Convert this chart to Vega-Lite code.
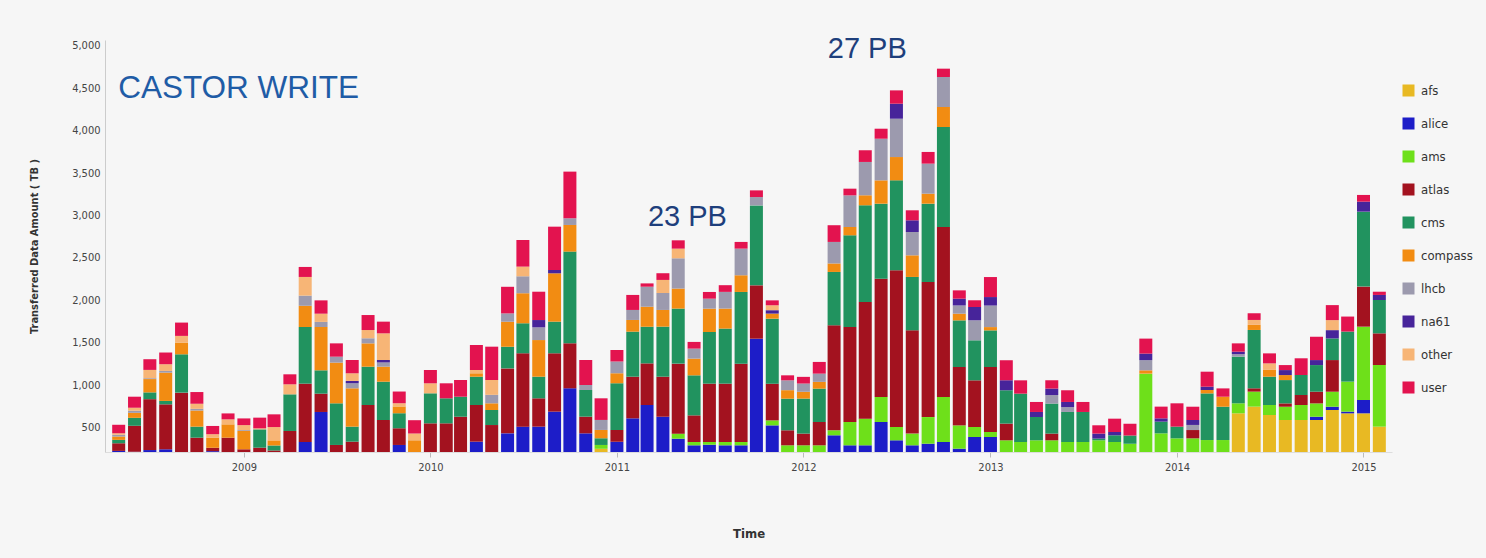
{
"$schema": "https://vega.github.io/schema/vega-lite/v6.json",
"width": 1287, "height": 412,
"autosize": {"type": "none"},
"padding": {"left": 105, "top": 40, "right": 94, "bottom": 106},
"background": "#f6f6f6",
"config": {"view": {"stroke": null}, "axis": {"grid": false}},
"layer": [
{
"data": {"values": [
{"m":"2008-05-01","afs":0,"alice":225,"ams":0,"atlas":90,"cms":40,"compass":40,"lhcb":20,"na61":0,"other":18,"user":100},
{"m":"2008-06-01","afs":0,"alice":215,"ams":0,"atlas":306,"cms":94,"compass":59,"lhcb":25,"na61":0,"other":35,"user":130},
{"m":"2008-07-01","afs":0,"alice":235,"ams":0,"atlas":600,"cms":80,"compass":157,"lhcb":10,"na61":0,"other":98,"user":126},
{"m":"2008-08-01","afs":0,"alice":244,"ams":0,"atlas":530,"cms":40,"compass":334,"lhcb":20,"na61":0,"other":79,"user":138},
{"m":"2008-09-01","afs":0,"alice":0,"ams":0,"atlas":912,"cms":452,"compass":138,"lhcb":0,"na61":0,"other":79,"user":157},
{"m":"2008-10-01","afs":0,"alice":0,"ams":0,"atlas":381,"cms":130,"compass":190,"lhcb":20,"na61":0,"other":60,"user":138},
{"m":"2008-11-01","afs":0,"alice":222,"ams":0,"atlas":40,"cms":0,"compass":120,"lhcb":0,"na61":0,"other":40,"user":97},
{"m":"2008-12-01","afs":0,"alice":0,"ams":0,"atlas":381,"cms":0,"compass":157,"lhcb":0,"na61":0,"other":59,"user":70},
{"m":"2009-01-01","afs":0,"alice":0,"ams":0,"atlas":244,"cms":0,"compass":216,"lhcb":10,"na61":0,"other":59,"user":79},
{"m":"2009-02-01","afs":0,"alice":0,"ams":0,"atlas":263,"cms":216,"compass":0,"lhcb":0,"na61":0,"other":12,"user":126},
{"m":"2009-03-01","afs":0,"alice":0,"ams":0,"atlas":230,"cms":59,"compass":60,"lhcb":0,"na61":0,"other":157,"user":150},
{"m":"2009-04-01","afs":0,"alice":0,"ams":0,"atlas":460,"cms":432,"compass":0,"lhcb":0,"na61":0,"other":118,"user":118},
{"m":"2009-05-01","afs":0,"alice":330,"ams":0,"atlas":688,"cms":668,"compass":250,"lhcb":120,"na61":0,"other":220,"user":118},
{"m":"2009-06-01","afs":0,"alice":684,"ams":0,"atlas":216,"cms":275,"compass":511,"lhcb":60,"na61":0,"other":97,"user":157},
{"m":"2009-07-01","afs":0,"alice":0,"ams":0,"atlas":295,"cms":491,"compass":480,"lhcb":70,"na61":0,"other":0,"user":157},
{"m":"2009-08-01","afs":0,"alice":0,"ams":0,"atlas":334,"cms":177,"compass":452,"lhcb":60,"na61":27,"other":90,"user":157},
{"m":"2009-09-01","afs":0,"alice":0,"ams":0,"atlas":766,"cms":452,"compass":275,"lhcb":60,"na61":0,"other":97,"user":177},
{"m":"2009-10-01","afs":0,"alice":0,"ams":0,"atlas":589,"cms":452,"compass":177,"lhcb":50,"na61":29,"other":314,"user":138},
{"m":"2009-11-01","afs":0,"alice":295,"ams":0,"atlas":197,"cms":177,"compass":80,"lhcb":0,"na61":0,"other":38,"user":138},
{"m":"2009-12-01","afs":0,"alice":0,"ams":0,"atlas":0,"cms":0,"compass":350,"lhcb":0,"na61":0,"other":80,"user":157},
{"m":"2010-01-01","afs":0,"alice":0,"ams":0,"atlas":550,"cms":354,"compass":0,"lhcb":0,"na61":0,"other":118,"user":157},
{"m":"2010-02-01","afs":0,"alice":0,"ams":0,"atlas":550,"cms":295,"compass":0,"lhcb":0,"na61":0,"other":0,"user":177},
{"m":"2010-03-01","afs":0,"alice":0,"ams":0,"atlas":628,"cms":236,"compass":0,"lhcb":0,"na61":0,"other":0,"user":197},
{"m":"2010-04-01","afs":0,"alice":334,"ams":0,"atlas":432,"cms":334,"compass":40,"lhcb":0,"na61":0,"other":39,"user":295},
{"m":"2010-05-01","afs":0,"alice":0,"ams":0,"atlas":530,"cms":177,"compass":79,"lhcb":100,"na61":0,"other":175,"user":393},
{"m":"2010-06-01","afs":0,"alice":432,"ams":0,"atlas":766,"cms":255,"compass":295,"lhcb":98,"na61":0,"other":0,"user":314},
{"m":"2010-07-01","afs":0,"alice":511,"ams":0,"atlas":865,"cms":354,"compass":354,"lhcb":200,"na61":0,"other":114,"user":314},
{"m":"2010-08-01","afs":0,"alice":511,"ams":0,"atlas":334,"cms":255,"compass":432,"lhcb":150,"na61":86,"other":0,"user":334},
{"m":"2010-09-01","afs":0,"alice":688,"ams":0,"atlas":688,"cms":373,"compass":570,"lhcb":0,"na61":39,"other":0,"user":511},
{"m":"2010-10-01","afs":0,"alice":963,"ams":0,"atlas":531,"cms":1081,"compass":314,"lhcb":79,"na61":0,"other":0,"user":550},
{"m":"2010-11-01","afs":0,"alice":432,"ams":0,"atlas":197,"cms":314,"compass":0,"lhcb":59,"na61":0,"other":0,"user":295},
{"m":"2010-12-01","afs":250,"alice":0,"ams":45,"atlas":0,"cms":79,"compass":98,"lhcb":118,"na61":0,"other":0,"user":255},
{"m":"2011-01-01","afs":0,"alice":334,"ams":0,"atlas":138,"cms":550,"compass":118,"lhcb":138,"na61":0,"other":0,"user":138},
{"m":"2011-02-01","afs":0,"alice":609,"ams":0,"atlas":491,"cms":531,"compass":138,"lhcb":118,"na61":0,"other":0,"user":177},
{"m":"2011-03-01","afs":0,"alice":766,"ams":0,"atlas":491,"cms":432,"compass":236,"lhcb":236,"na61":0,"other":0,"user":39},
{"m":"2011-04-01","afs":0,"alice":628,"ams":0,"atlas":472,"cms":590,"compass":197,"lhcb":200,"na61":0,"other":154,"user":79},
{"m":"2011-05-01","afs":0,"alice":369,"ams":59,"atlas":826,"cms":649,"compass":236,"lhcb":357,"na61":0,"other":114,"user":98},
{"m":"2011-06-01","afs":0,"alice":291,"ams":39,"atlas":314,"cms":472,"compass":197,"lhcb":118,"na61":0,"other":0,"user":79},
{"m":"2011-07-01","afs":0,"alice":298,"ams":32,"atlas":688,"cms":609,"compass":275,"lhcb":118,"na61":0,"other":0,"user":79},
{"m":"2011-08-01","afs":0,"alice":291,"ams":39,"atlas":688,"cms":649,"compass":236,"lhcb":197,"na61":0,"other":0,"user":79},
{"m":"2011-09-01","afs":0,"alice":291,"ams":39,"atlas":924,"cms":845,"compass":197,"lhcb":314,"na61":0,"other":0,"user":79},
{"m":"2011-10-01","afs":0,"alice":1548,"ams":0,"atlas":629,"cms":943,"compass":0,"lhcb":98,"na61":0,"other":0,"user":79},
{"m":"2011-11-01","afs":0,"alice":526,"ams":59,"atlas":432,"cms":767,"compass":60,"lhcb":0,"na61":40,"other":58,"user":58},
{"m":"2011-12-01","afs":0,"alice":0,"ams":291,"atlas":177,"cms":373,"compass":100,"lhcb":116,"na61":0,"other":0,"user":59},
{"m":"2012-01-01","afs":0,"alice":0,"ams":291,"atlas":138,"cms":413,"compass":80,"lhcb":97,"na61":0,"other":0,"user":79},
{"m":"2012-02-01","afs":0,"alice":0,"ams":291,"atlas":275,"cms":393,"compass":80,"lhcb":97,"na61":0,"other":0,"user":138},
{"m":"2012-03-01","afs":0,"alice":409,"ams":59,"atlas":1238,"cms":629,"compass":100,"lhcb":254,"na61":0,"other":0,"user":197},
{"m":"2012-04-01","afs":0,"alice":291,"ams":275,"atlas":1120,"cms":1081,"compass":98,"lhcb":373,"na61":0,"other":0,"user":79},
{"m":"2012-05-01","afs":0,"alice":291,"ams":314,"atlas":1376,"cms":1140,"compass":118,"lhcb":393,"na61":0,"other":0,"user":138},
{"m":"2012-06-01","afs":0,"alice":566,"ams":295,"atlas":1395,"cms":884,"compass":275,"lhcb":491,"na61":0,"other":0,"user":118},
{"m":"2012-07-01","afs":0,"alice":350,"ams":157,"atlas":1847,"cms":1061,"compass":275,"lhcb":452,"na61":177,"other":0,"user":157},
{"m":"2012-08-01","afs":0,"alice":291,"ams":138,"atlas":1218,"cms":629,"compass":255,"lhcb":275,"na61":138,"other":0,"user":118},
{"m":"2012-09-01","afs":0,"alice":310,"ams":314,"atlas":1592,"cms":924,"compass":118,"lhcb":354,"na61":0,"other":0,"user":138},
{"m":"2012-10-01","afs":0,"alice":330,"ams":531,"atlas":2004,"cms":1179,"compass":236,"lhcb":354,"na61":0,"other":0,"user":98},
{"m":"2012-11-01","afs":0,"alice":251,"ams":275,"atlas":688,"cms":550,"compass":79,"lhcb":97,"na61":80,"other":0,"user":98},
{"m":"2012-12-01","afs":0,"alice":389,"ams":118,"atlas":550,"cms":472,"compass":0,"lhcb":236,"na61":157,"other":0,"user":79},
{"m":"2013-01-01","afs":0,"alice":389,"ams":59,"atlas":766,"cms":432,"compass":39,"lhcb":254,"na61":100,"other":0,"user":236},
{"m":"2013-02-01","afs":0,"alice":0,"ams":350,"atlas":197,"cms":393,"compass":0,"lhcb":0,"na61":118,"other":0,"user":236},
{"m":"2013-03-01","afs":0,"alice":0,"ams":330,"atlas":0,"cms":570,"compass":0,"lhcb":0,"na61":0,"other":0,"user":157},
{"m":"2013-04-01","afs":0,"alice":0,"ams":350,"atlas":0,"cms":275,"compass":0,"lhcb":0,"na61":59,"other":0,"user":118},
{"m":"2013-05-01","afs":0,"alice":0,"ams":350,"atlas":79,"cms":354,"compass":0,"lhcb":100,"na61":77,"other":0,"user":98},
{"m":"2013-06-01","afs":0,"alice":0,"ams":330,"atlas":0,"cms":354,"compass":0,"lhcb":58,"na61":60,"other":0,"user":138},
{"m":"2013-07-01","afs":0,"alice":0,"ams":330,"atlas":0,"cms":354,"compass":0,"lhcb":0,"na61":0,"other":0,"user":118},
{"m":"2013-08-01","afs":0,"alice":0,"ams":350,"atlas":0,"cms":20,"compass":0,"lhcb":0,"na61":59,"other":0,"user":98},
{"m":"2013-09-01","afs":0,"alice":0,"ams":330,"atlas":0,"cms":79,"compass":0,"lhcb":0,"na61":39,"other":0,"user":157},
{"m":"2013-10-01","afs":0,"alice":0,"ams":310,"atlas":0,"cms":98,"compass":0,"lhcb":0,"na61":0,"other":0,"user":138},
{"m":"2013-11-01","afs":0,"alice":0,"ams":1136,"atlas":0,"cms":0,"compass":39,"lhcb":120,"na61":77,"other":0,"user":177},
{"m":"2013-12-01","afs":0,"alice":0,"ams":432,"atlas":0,"cms":138,"compass":0,"lhcb":0,"na61":39,"other":0,"user":138},
{"m":"2014-01-01","afs":0,"alice":0,"ams":373,"atlas":0,"cms":138,"compass":0,"lhcb":0,"na61":0,"other":0,"user":275},
{"m":"2014-02-01","afs":0,"alice":0,"ams":373,"atlas":98,"cms":0,"compass":0,"lhcb":60,"na61":58,"other":0,"user":157},
{"m":"2014-03-01","afs":0,"alice":0,"ams":353,"atlas":0,"cms":550,"compass":40,"lhcb":0,"na61":39,"other":0,"user":177},
{"m":"2014-04-01","afs":0,"alice":0,"ams":353,"atlas":0,"cms":393,"compass":118,"lhcb":0,"na61":0,"other":0,"user":98},
{"m":"2014-05-01","afs":668,"alice":0,"ams":118,"atlas":0,"cms":550,"compass":0,"lhcb":30,"na61":29,"other":0,"user":98},
{"m":"2014-06-01","afs":747,"alice":0,"ams":177,"atlas":39,"cms":688,"compass":60,"lhcb":0,"na61":0,"other":58,"user":79},
{"m":"2014-07-01","afs":648,"alice":0,"ams":118,"atlas":0,"cms":334,"compass":80,"lhcb":0,"na61":0,"other":77,"user":118},
{"m":"2014-08-01","afs":589,"alice":0,"ams":157,"atlas":39,"cms":275,"compass":59,"lhcb":0,"na61":59,"other":0,"user":59},
{"m":"2014-09-01","afs":589,"alice":0,"ams":177,"atlas":118,"cms":236,"compass":0,"lhcb":0,"na61":0,"other":0,"user":197},
{"m":"2014-10-01","afs":589,"alice":39,"ams":157,"atlas":138,"cms":314,"compass":0,"lhcb":0,"na61":59,"other":0,"user":275},
{"m":"2014-11-01","afs":707,"alice":39,"ams":177,"atlas":373,"cms":255,"compass":0,"lhcb":0,"na61":98,"other":118,"user":177},
{"m":"2014-12-01","afs":668,"alice":20,"ams":354,"atlas":0,"cms":590,"compass":0,"lhcb":0,"na61":0,"other":0,"user":177},
{"m":"2015-01-01","afs":668,"alice":157,"ams":865,"atlas":472,"cms":884,"compass":0,"lhcb":0,"na61":118,"other":0,"user":79},
{"m":"2015-02-01","afs":511,"alice":0,"ams":727,"atlas":373,"cms":393,"compass":0,"lhcb":0,"na61":60,"other":0,"user":38}
]},
"transform": [{"fold": ["afs","alice","ams","atlas","cms","compass","lhcb","na61","other","user"], "as": ["exp","tb"]}],
"mark": {"type": "bar", "width": 13, "clip": true},
"encoding": {
"x": {"field": "m", "type": "temporal",
 "scale": {"type": "utc", "domain": [{"year":2008,"month":4,"date":14,"utc":true},{"year":2015,"month":2,"date":16,"utc":true}]},
 "axis": {"title": "Time", "format": "%Y", "formatType": "utc", "tickCount": {"interval": "year", "step": 1},
  "labelFont": "DejaVu Sans Condensed, Liberation Sans Narrow, sans-serif", "labelFontSize": 11, "labelColor": "#444",
  "tickColor": "#bbb", "tickSize": 5, "domainColor": "#ddd", "labelPadding": 4,
  "titleFont": "DejaVu Sans Condensed, Liberation Sans Narrow, sans-serif", "titleFontSize": 13, "titleFontWeight": "bold", "titleColor": "#333", "titlePadding": 55}},
"y": {"field": "tb", "type": "quantitative", "stack": "zero",
 "scale": {"domain": [212, 5070], "nice": false, "zero": false},
 "axis": {"title": "Transferred Data Amount ( TB )", "values": [500,1000,1500,2000,2500,3000,3500,4000,4500,5000], "format": ",d",
  "ticks": false, "labelPadding": 5, "domainColor": "#ccc",
  "labelFont": "DejaVu Sans Condensed, Liberation Sans Narrow, sans-serif", "labelFontSize": 11, "labelColor": "#444",
  "titleFont": "DejaVu Sans Condensed, Liberation Sans Narrow, sans-serif", "titleFontSize": 11, "titleFontWeight": "bold", "titleColor": "#333", "titlePadding": 32}},
"color": {"field": "exp", "type": "nominal",
 "scale": {"domain": ["afs","alice","ams","atlas","cms","compass","lhcb","na61","other","user"],
  "range": ["#e8b923","#1d1dc8","#6ee01a","#a3121f","#21935f","#f28c12","#9c9aae","#47249a","#f7b576","#e3134f"]},
 "legend": {"title": null, "orient": "none", "legendX": 1297, "legendY": 44, "symbolType": "square", "symbolSize": 144,
  "symbolStrokeWidth": 0, "rowPadding": 19, "labelFontSize": 13, "labelColor": "#333",
  "labelFont": "DejaVu Sans Condensed, Liberation Sans Narrow, sans-serif", "labelOffset": 6}},
"order": {"field": "exp", "sort": "ascending"}
}
},
{
"data": {"values": [{"t": "CASTOR WRITE", "m": "2008-04-30", "v": 4492}]},
"mark": {"type": "text", "align": "left", "baseline": "middle", "fontSize": 31.5, "font": "Liberation Sans", "color": "#1f5ca6"},
"encoding": {
"x": {"field": "m", "type": "temporal", "scale": {"type": "utc", "domain": [{"year":2008,"month":4,"date":14,"utc":true},{"year":2015,"month":2,"date":16,"utc":true}]}},
"y": {"field": "v", "type": "quantitative", "scale": {"domain": [212, 5070], "nice": false, "zero": false}},
"text": {"field": "t"}
}
},
{
"data": {"values": [{"t": "23 PB", "m": "2011-05-19", "v": 2983}, {"t": "27 PB", "m": "2012-05-05", "v": 4964}]},
"mark": {"type": "text", "align": "center", "baseline": "middle", "fontSize": 29, "font": "Liberation Sans", "color": "#1e3f7c"},
"encoding": {
"x": {"field": "m", "type": "temporal", "scale": {"type": "utc", "domain": [{"year":2008,"month":4,"date":14,"utc":true},{"year":2015,"month":2,"date":16,"utc":true}]}},
"y": {"field": "v", "type": "quantitative", "scale": {"domain": [212, 5070], "nice": false, "zero": false}},
"text": {"field": "t"}
}
}
]
}
